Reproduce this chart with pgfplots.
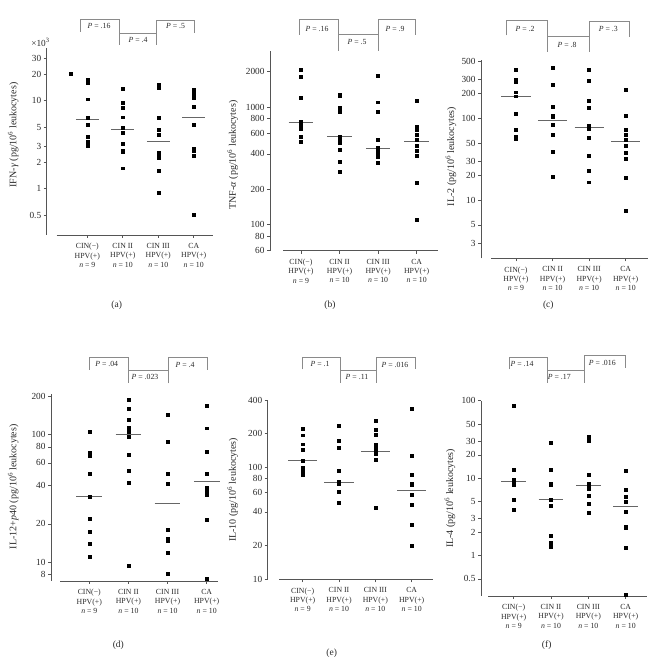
\documentclass[border=0pt]{standalone}
\usepackage{pgfplots}
\pgfplotsset{compat=1.18}
\usepackage{fontspec}
\setmainfont{Liberation Serif}
\definecolor{txt}{HTML}{2A2A2A}
\definecolor{axisgray}{HTML}{555555}
\definecolor{brkc}{HTML}{8A8A8A}
\definecolor{medgray}{HTML}{666666}
\newcommand{\tickfont}{\fontsize{9.3}{10}\selectfont}
\newcommand{\xfont}{\fontsize{7.8}{9.3}\selectfont}
\newcommand{\pfont}{\fontsize{7.8}{8}\selectfont}
\newcommand{\labfont}{\fontsize{10}{11}\selectfont}
\pgfplotsset{
  panel/.style={
    scale only axis, anchor=south west, clip=false,
    axis x line*=bottom, axis y line*=left,
    axis line style={-},
    x axis line style={draw=none},
    y axis line style={draw=axisgray, line width=0.7pt},
    tick align=outside, major tick length=3pt,
    xtick style={axisgray, line width=0.6pt},
    ytick style={axisgray, line width=0.6pt},
    xtick={0,1,2,3},
    xticklabels={{CIN(−)\\HPV(+)\\\textit{n} = 9},{CIN II\\HPV(+)\\\textit{n} = 10},{CIN III\\HPV(+)\\\textit{n} = 10},{CA\\HPV(+)\\\textit{n} = 10}},
    xticklabel style={align=center, font=\xfont, text=txt, yshift=-2pt},
    yticklabel style={font=\tickfont, text=txt, xshift=1pt},
  },
  pts/.style={only marks, mark=square*, mark size=1.45pt, black},
  medl/.style={medgray, line width=0.7pt, mark=none},
}
\begin{document}
\begin{tikzpicture}
\useasboundingbox (0,0) rectangle (665pt,662pt);
% ---------------- (a) IFN-gamma
\begin{axis}[ymode=log, panel, at={(46.7pt,427pt)}, width=166.6pt, height=186.7pt,
  xmin=-1.145, xmax=3.552, ymin=0.298, ymax=39.4,
  ytick={0.5,1,2,3,5,10,20,30}, yticklabels={0.5,1,2,3,5,10,20,30}]
\draw[axisgray, line width=0.7pt] (rel axis cs:0.06,0) -- (rel axis cs:1,0);
\addplot[pts] table {
x y
-0.46 20.5
0 17.2
0 16.2
0 10.4
0 6.4
0 5.3
0 3.9
0 3.42
0 3.08
1 13.8
1 9.6
1 8.4
1 6.5
1 4.93
1 4.3
1 3.22
1 2.7
1 2.61
1 1.71
2 15.3
2 14.1
2 6.4
2 4.73
2 4.11
2 2.57
2 2.42
2 2.25
2 1.6
2 0.91
3 13.2
3 12.5
3 11.7
3 10.9
3 8.55
3 5.4
3 2.88
3 2.7
3 2.35
3 0.51
};
\addplot[medl] coordinates {(-0.32,6.2) (0.32,6.2)};
\addplot[medl] coordinates {(0.68,4.77) (1.32,4.77)};
\addplot[medl] coordinates {(1.68,3.42) (2.32,3.42)};
\addplot[medl] coordinates {(2.68,6.5) (3.32,6.5)};
\end{axis}
% ---------------- (b) TNF-alpha
\begin{axis}[ymode=log, panel, at={(270pt,411.3pt)}, width=168.3pt, height=199.7pt,
  xmin=-0.803, xmax=3.56, ymin=60, ymax=3007,
  ytick={60,80,100,200,400,600,800,1000,2000}, yticklabels={60,80,100,200,400,600,800,1000,2000}]
\draw[axisgray, line width=0.7pt] (rel axis cs:0.079,0) -- (rel axis cs:1,0);
\addplot[pts] table {
x y
0 2086
0 1820
0 1200
0 755
0 731
0 707
0 654
0 562
0 504
1 1280
1 1240
1 992
1 907
1 562
1 527
1 494
1 431
1 343
1 282
2 1855
2 1102
2 912
2 525
2 449
2 420
2 407
2 391
2 376
2 338
3 1132
3 680
3 645
3 578
3 527
3 472
3 426
3 383
3 227
3 110
};
\addplot[medl] coordinates {(-0.32,746) (0.32,746)};
\addplot[medl] coordinates {(0.68,559) (1.32,559)};
\addplot[medl] coordinates {(1.68,449) (2.32,449)};
\addplot[medl] coordinates {(2.68,514) (3.32,514)};
\end{axis}
% ---------------- (c) IL-2
\begin{axis}[ymode=log, panel, at={(481pt,403.7pt)}, width=167.3pt, height=198.7pt,
  xmin=-0.957, xmax=3.618, ymin=1.96, ymax=520,
  ytick={3,5,10,20,30,50,100,200,300,500}, yticklabels={3,5,10,20,30,50,100,200,300,500}]
\draw[axisgray, line width=0.7pt] (rel axis cs:0.06,0) -- (rel axis cs:1,0);
\addplot[pts] table {
x y
0 387
0 294
0 278
0 208
0 186
0 115
0 73
0 60
0 56
1 409
1 258
1 139
1 107
1 105
1 103
1 84.5
1 63.7
1 39
1 19.3
2 387
2 284
2 164
2 136
2 81
2 75.5
2 58
2 34.6
2 23
2 16.6
3 226
3 107
3 73
3 63.7
3 55.3
3 46.3
3 38.4
3 32
3 18.7
3 7.4
};
\addplot[medl] coordinates {(-0.4,187) (0.4,187)};
\addplot[medl] coordinates {(0.6,93.5) (1.4,93.5)};
\addplot[medl] coordinates {(1.6,77.6) (2.4,77.6)};
\addplot[medl] coordinates {(2.6,52.7) (3.4,52.7)};
\end{axis}
% ---------------- (d) IL-12+p40
\begin{axis}[ymode=log, panel, at={(51pt,81pt)}, width=167.3pt, height=187pt,
  xmin=-0.979, xmax=3.297, ymin=7.14, ymax=207.5,
  ytick={8,10,20,40,60,80,100,200}, yticklabels={8,10,20,40,60,80,100,200}]
\draw[axisgray, line width=0.7pt] (rel axis cs:0.054,0) -- (rel axis cs:1,0);
\addplot[pts] table {
x y
0 106
0 72
0 68.7
0 49
0 32.7
0 21.9
0 17.3
0 14
0 11
1 187
1 159
1 131
1 112.5
1 105
1 95.8
1 70
1 52
1 42
1 9.4
2 144
2 87.7
2 49.5
2 41
2 18
2 15.3
2 15
2 14.7
2 11.9
2 8.2
3 169
3 112
3 73.3
3 49.2
3 38.5
3 37
3 35.5
3 34
3 21.7
3 7.46
};
\addplot[medl] coordinates {(-0.33,32.7) (0.33,32.7)};
\addplot[medl] coordinates {(0.67,100) (1.33,100)};
\addplot[medl] coordinates {(1.67,29) (2.33,29)};
\addplot[medl] coordinates {(2.67,43) (3.33,43)};
\end{axis}
% ---------------- (e) IL-10
\begin{axis}[ymode=log, panel, at={(267.7pt,82.7pt)}, width=165.6pt, height=179.3pt,
  xmin=-0.963, xmax=3.595, ymin=10, ymax=400,
  ytick={10,20,40,60,80,100,200,400}, yticklabels={10,20,40,60,80,100,200,400}]
\draw[axisgray, line width=0.7pt] (rel axis cs:0.07,0) -- (rel axis cs:1,0);
\addplot[pts] table {
x y
0 220
0 194
0 161
0 143.6
0 114.7
0 100
0 92.2
0 88
0 85.7
1 234
1 172.5
1 150.6
1 92.9
1 75.1
1 73.6
1 72.1
1 61.2
1 60
1 48.3
2 263.5
2 219
2 196.5
2 161
2 153.6
2 146.6
2 140.6
2 133
2 116.4
2 43.6
3 336.6
3 126
3 85.7
3 72.1
3 70.6
3 69.8
3 57.2
3 46.7
3 31
3 19.8
};
\addplot[medl] coordinates {(-0.4,115.4) (0.4,115.4)};
\addplot[medl] coordinates {(0.6,74.2) (1.4,74.2)};
\addplot[medl] coordinates {(1.6,140) (2.4,140)};
\addplot[medl] coordinates {(2.6,62.5) (3.4,62.5)};
\end{axis}
% ---------------- (f) IL-4
\begin{axis}[ymode=log, panel, at={(481pt,66pt)}, width=165.7pt, height=195.3pt,
  xmin=-0.876, xmax=3.563, ymin=0.30, ymax=100,
  ytick={0.5,1,2,3,5,10,20,30,50,100}, yticklabels={0.5,1,2,3,5,10,20,30,50,100}]
\draw[axisgray, line width=0.7pt] (rel axis cs:0.044,0) -- (rel axis cs:1,0);
\addplot[pts] table {
x y
0 87
0 13
0 9.65
0 9.23
0 8.84
0 8.45
0 8.2
0 5.27
0 3.89
1 28.6
1 13
1 8.53
1 8.13
1 5.32
1 5.32
1 4.38
1 1.82
1 1.47
1 1.29
2 34.1
2 30.7
2 11
2 8.38
2 7.8
2 7.44
2 7.23
2 5.98
2 4.64
2 3.62
3 12.4
3 7.02
3 5.81
3 4.97
3 3.73
3 2.38
3 2.31
3 2.31
3 1.25
3 0.316
};
\addplot[medl] coordinates {(-0.33,9.04) (0.33,9.04)};
\addplot[medl] coordinates {(0.67,5.38) (1.33,5.38)};
\addplot[medl] coordinates {(1.67,8.13) (2.33,8.13)};
\addplot[medl] coordinates {(2.67,4.38) (3.33,4.38)};
\end{axis}
% ---------------- annotations
\begin{scope}[yshift=662pt, x=1pt, y=-1pt]
\tikzset{brk/.style={brkc, line width=0.75pt}, pv/.style={font=\pfont, text=txt, inner sep=0pt}}
% (a)
\draw[brk] (80.7,32) -- (80.7,19.5) -- (119.3,19.5) -- (119.3,45);
\draw[brk] (119.3,33.3) -- (156.7,33.3);
\draw[brk] (156.7,45) -- (156.7,20) -- (194.3,20) -- (194.3,32.7);
\node[pv] at (99,26) {\textit{P} = .16};
\node[pv] at (138,40) {\textit{P} = .4};
\node[pv] at (175.5,26.5) {\textit{P} = .5};
% (b)
\draw[brk] (299,34.7) -- (299,19.3) -- (338.3,19.3) -- (338.3,50.7);
\draw[brk] (338.3,34.7) -- (378,34.7);
\draw[brk] (378,50.7) -- (378,19.3) -- (415.3,19.3) -- (415.3,34.7);
\node[pv] at (317,28.5) {\textit{P} = .16};
\node[pv] at (357,42.5) {\textit{P} = .5};
\node[pv] at (395,28.5) {\textit{P} = .9};
% (c)
\draw[brk] (506,35.3) -- (506,20.7) -- (547.3,20.7) -- (547.3,51.7);
\draw[brk] (547.3,36.7) -- (589,36.7);
\draw[brk] (589,51.7) -- (589,21.3) -- (629.3,21.3) -- (629.3,36.7);
\node[pv] at (525,29.3) {\textit{P} = .2};
\node[pv] at (567,45) {\textit{P} = .8};
\node[pv] at (608.3,29.3) {\textit{P} = .3};
% (d)
\draw[brk] (89.3,370) -- (89.3,357.3) -- (128.7,357.3) -- (128.7,383.3);
\draw[brk] (128.7,370.7) -- (168.3,370.7);
\draw[brk] (168.3,383.3) -- (168.3,357.3) -- (207.3,357.3) -- (207.3,370);
\node[pv] at (106.7,364) {\textit{P} = .04};
\node[pv] at (145,377.3) {\textit{P} = .023};
\node[pv] at (185,365) {\textit{P} = .4};
% (e)
\draw[brk] (302,369.3) -- (302,357.3) -- (340.3,357.3) -- (340.3,382.7);
\draw[brk] (340.3,370) -- (376.3,370);
\draw[brk] (376.3,382.7) -- (376.3,357.3) -- (415,357.3) -- (415,369.3);
\node[pv] at (320,364) {\textit{P} = .1};
\node[pv] at (357,377.3) {\textit{P} = .11};
\node[pv] at (395,364.5) {\textit{P} = .016};
% (f)
\draw[brk] (509.3,369.3) -- (509.3,357.3) -- (547.3,357.3) -- (547.3,382.7);
\draw[brk] (547.3,370) -- (584,370);
\draw[brk] (584,382.7) -- (584,355) -- (625,355) -- (625,367.7);
\node[pv] at (522,364) {\textit{P} = .14};
\node[pv] at (559.3,377.3) {\textit{P} = .17};
\node[pv] at (602.3,362.5) {\textit{P} = .016};
% y labels
\tikzset{yl/.style={rotate=90, font=\labfont, text=txt, inner sep=0pt}}
\node[yl] at (13.3,135) {IFN-\textit{γ} (pg/10\textsuperscript{6} leukocytes)};
\node[yl] at (232.7,155) {TNF-\textit{α} (pg/10\textsuperscript{6} leukocytes)};
\node[yl] at (451,156.7) {IL-2 (pg/10\textsuperscript{6} leukocytes)};
\node[yl] at (13.3,486.7) {IL-12+\textit{p}40 (pg/10\textsuperscript{6} leukocytes)};
\node[yl] at (232.7,490) {IL-10 (pg/10\textsuperscript{6} leukocytes)};
\node[yl] at (450,498.3) {IL-4 (pg/10\textsuperscript{6} leukocytes)};
% multiplier
\node[font=\tickfont, text=txt, inner sep=0pt] at (40.5,42) {×10\textsuperscript{3}};
% panel letters
\tikzset{pl/.style={font=\fontsize{9.5}{10}\selectfont, text=txt, inner sep=0pt}}
\node[pl] at (116.7,305) {(a)};
\node[pl] at (330,305) {(b)};
\node[pl] at (548.3,305) {(c)};
\node[pl] at (118.3,645) {(d)};
\node[pl] at (331.7,653) {(e)};
\node[pl] at (546.7,645) {(f)};
\end{scope}
\end{tikzpicture}
\end{document}
